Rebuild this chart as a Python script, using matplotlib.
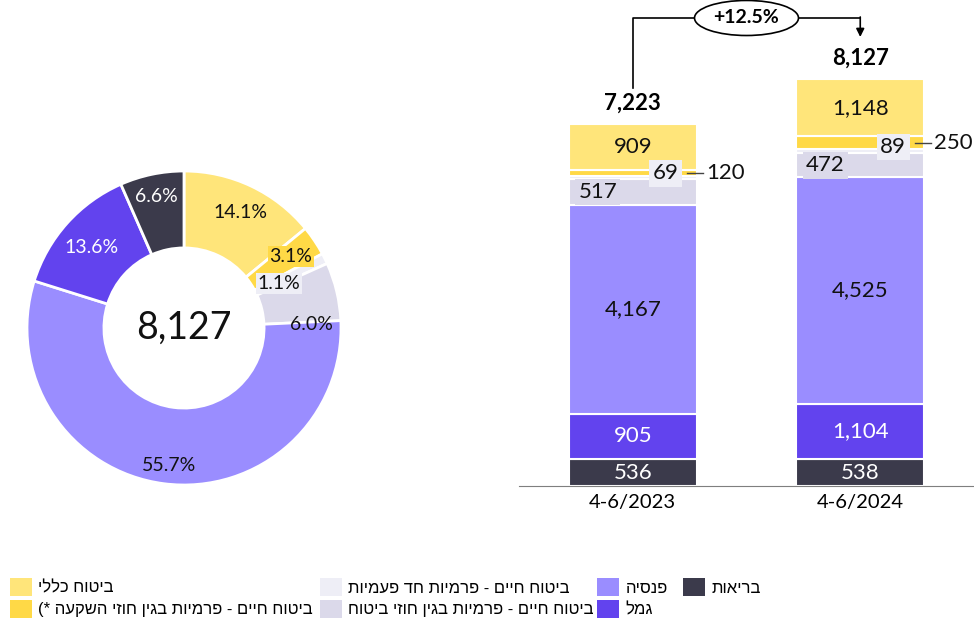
import matplotlib
matplotlib.use('Agg')
import matplotlib.pyplot as plt
from matplotlib.patches import Patch
import numpy as np

# data (bottom -> top of the stack)
periods = ['4-6/2023', '4-6/2024']
series = ['בריאות', 'גמל', 'פנסיה',
          'ביטוח חיים - פרמיות בגין חוזי ביטוח',
          'ביטוח חיים - פרמיות חד פעמיות',
          'ביטוח חיים - פרמיות בגין חוזי השקעה *)',
          'ביטוח כללי']
values_2023 = [536, 905, 4167, 517, 69, 120, 909]
values_2024 = [538, 1104, 4525, 472, 89, 250, 1148]
totals = [7223, 8127]
growth_label = '+12.5%'

# donut, clockwise from 12 o'clock (top of stack first)
pie_pct = [14.1, 3.1, 1.1, 6.0, 55.7, 13.6, 6.6]
pie_center = '8,127'

colors = ['#3b3a4b', '#6243ee', '#9a8dff', '#dbd9ea', '#eeeef6', '#ffd946', '#ffe57a']

NUM_FONT = ['Lato', 'DejaVu Sans']
HEB_FONT = ['Liberation Sans', 'DejaVu Sans']
MIRROR = {'(': ')', ')': '('}


def heb(s):
    # matplotlib has no bidi: reverse for display, mirror brackets
    return ''.join(MIRROR.get(c, c) for c in reversed(s))


plt.rcParams['font.family'] = NUM_FONT
fig = plt.figure(figsize=(9.74, 6.27), dpi=100)

###
### donut
###
axp = fig.add_axes([27 / 974, (627 - 485) / 627, 314 / 974, 314 / 627])
pie_colors = colors[::-1]
axp.pie(pie_pct, colors=pie_colors, startangle=90, counterclock=False, radius=1,
        wedgeprops=dict(width=0.49, edgecolor='white', linewidth=2))
axp.set_xlim(-1, 1)
axp.set_ylim(-1, 1)
axp.set_aspect('equal')
axp.text(0, 0, pie_center, ha='center', va='center', fontsize=27, color='#111111')

# (angle shift in degrees, radius) per label
nudge = [(0.6, 0.82), (0, 0.82), (1, 0.67), (12, 0.81), (-1, 0.88), (-1, 0.78), (0, 0.855)]
cum = 0.0
tot = sum(pie_pct)
for i, p in enumerate(pie_pct):
    mid = (cum + p / 2) / tot * 360
    cum += p
    da, r = nudge[i]
    ang = np.deg2rad(90 - (mid + da))
    col = 'white' if i >= 5 else '#111111'
    box = None
    if i in (1, 2):
        box = dict(boxstyle='square,pad=0.1', fc=pie_colors[i], ec='none')
    axp.text(r * np.cos(ang), r * np.sin(ang), f'{p:.1f}%', ha='center', va='center',
             fontsize=14, color=col, bbox=box)

###
### stacked bars
###
axb = fig.add_axes([519 / 974, (627 - 486) / 627, 455 / 974, 486 / 627])
x = np.arange(len(periods))
data = np.array([values_2023, values_2024])
w = 0.564
bottom = np.zeros(len(periods))
for j in range(len(series)):
    axb.bar(x, data[:, j], w, bottom=bottom, color=colors[j], edgecolor='white', linewidth=1.5)
    for i in range(len(periods)):
        v = data[i, j]
        yc = bottom[i] + v / 2
        lab = f'{v:,}'
        if j in (0, 1):
            axb.text(x[i], yc, lab, ha='center', va='center', fontsize=16, color='white')
        elif j == 3:
            axb.text(x[i] - 0.154, yc, lab, ha='center', va='center', fontsize=16, color='#111111',
                     bbox=dict(boxstyle='square,pad=0.15', fc=colors[3], ec='none'))
        elif j == 4:
            axb.text(x[i] + 0.145, yc + 80, lab, ha='center', va='center', fontsize=16, color='#111111',
                     bbox=dict(boxstyle='square,pad=0.15', fc=colors[4], ec='none'), zorder=5)
        elif j == 5:
            axb.plot([x[i] + 0.24, x[i] + 0.31], [yc, yc], color='#444444', lw=1, zorder=6)
            axb.text(x[i] + 0.325, yc, lab, ha='left', va='center', fontsize=16, color='#111111')
        else:
            axb.text(x[i], yc, lab, ha='center', va='center', fontsize=16, color='#111111')
    bottom += data[:, j]

for i, t in enumerate(totals):
    axb.text(x[i], t + 200, f'{t:,}', ha='center', va='bottom', fontsize=16, fontweight='bold')

# growth connector
y_top = 9341
axb.plot([x[0], x[0], x[1]], [totals[0] + 720, y_top, y_top], color='black', lw=1.2)
axb.annotate('', xy=(x[1], totals[1] + 835), xytext=(x[1], y_top + 20),
             arrowprops=dict(arrowstyle='-|>', color='black', lw=1.2, mutation_scale=12,
                             shrinkA=0, shrinkB=0))
axb.text((x[0] + x[1]) / 2, y_top, growth_label, ha='center', va='center', fontsize=14,
         fontweight='bold', zorder=10,
         bbox=dict(boxstyle='ellipse,pad=0.2', fc='white', ec='black', lw=1.2))

axb.set_xlim(-0.5, 1.5)
axb.set_ylim(0, 9700)
axb.set_xticks(x, periods, fontsize=14.5)
axb.tick_params(axis='x', length=0, pad=6)
axb.set_yticks([])
for s in ['top', 'left', 'right']:
    axb.spines[s].set_visible(False)
axb.spines['bottom'].set_color('#7f7f7f')
axb.patch.set_alpha(0)

###
### legend, one per column like the original
###
legend_cols = [(10, [6, 5]), (320, [4, 3]), (597, [2, 1]), (683, [0])]
for px, idx in legend_cols:
    handles = [Patch(facecolor=colors[k], edgecolor='none', label=heb(series[k])) for k in idx]
    fig.legend(handles=handles, loc='upper left', bbox_to_anchor=(px / 974, 1 - 578 / 627),
               frameon=False, borderpad=0, borderaxespad=0, handlelength=1.3, handleheight=1.3,
               handletextpad=0.4, labelspacing=0.2,
               prop=dict(family=HEB_FONT, size=12))

fig.savefig('out.png', dpi=100)
